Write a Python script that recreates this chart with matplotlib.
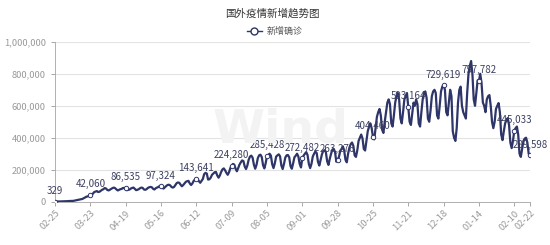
import datetime as dt
import matplotlib
matplotlib.use('Agg')
import matplotlib.pyplot as plt
from matplotlib.lines import Line2D
from matplotlib.ticker import FuncFormatter

plt.rcParams['font.family'] = ['Noto Sans CJK SC', 'DejaVu Sans']

start_date = dt.date(2020, 2, 25)

# daily new confirmed cases outside China, one row per week (Tue..Mon)
new_cases = [
    329, 450, 620, 900, 1200, 1550, 1800,
    2200, 2500, 2800, 3500, 3900, 4200, 4300,
    4800, 6500, 7500, 10000, 11000, 13000, 14500,
    17000, 22000, 26000, 31000, 33000, 36000, 42060,
    41000, 50000, 60000, 63000, 66000, 60000, 62000,
    68000, 74000, 78000, 85000, 82000, 73000, 70000,
    75000, 80000, 85000, 88000, 84000, 76000, 70000,
    74000, 78000, 80000, 86000, 84000, 86535, 72000,
    74000, 76000, 82000, 86000, 88000, 80000, 72000,
    74000, 78000, 84000, 88000, 86000, 76000, 74000,
    78000, 86000, 90000, 92000, 90000, 80000, 76000,
    84000, 88000, 92000, 98000, 97324, 86000, 82000,
    90000, 98000, 104000, 106000, 102000, 92000, 88000,
    92000, 104000, 116000, 120000, 118000, 106000, 96000,
    104000, 114000, 124000, 128000, 130000, 114000, 104000,
    114000, 130000, 138000, 143641, 140000, 128000, 118000,
    130000, 142000, 172000, 180000, 176000, 138000, 140000,
    150000, 168000, 176000, 184000, 186000, 164000, 150000,
    164000, 186000, 202000, 208000, 196000, 180000, 168000,
    184000, 210000, 224280, 236000, 232000, 206000, 190000,
    210000, 232000, 246000, 258000, 254000, 220000, 204000,
    226000, 262000, 282000, 288000, 276000, 232000, 206000,
    230000, 272000, 290000, 294000, 280000, 228000, 208000,
    240000, 285428, 292000, 300000, 288000, 234000, 210000,
    240000, 282000, 290000, 296000, 284000, 226000, 204000,
    236000, 276000, 290000, 292000, 278000, 222000, 206000,
    240000, 278000, 288000, 300000, 282000, 236000, 214000,
    272482, 288000, 300000, 310000, 292000, 236000, 210000,
    236000, 282000, 300000, 314000, 304000, 248000, 226000,
    260000, 296000, 318000, 322000, 310000, 252000, 230000,
    268000, 300000, 326000, 330000, 312000, 250000, 263276,
    280000, 318000, 330000, 346000, 320000, 262000, 246000,
    300000, 338000, 360000, 370000, 350000, 290000, 280000,
    320000, 380000, 400000, 420000, 396000, 330000, 320000,
    380000, 440000, 470000, 490000, 460000, 404460, 390000,
    460000, 530000, 560000, 580000, 540000, 450000, 430000,
    500000, 560000, 620000, 640000, 610000, 490000, 470000,
    540000, 620000, 660000, 680000, 640000, 520000, 490000,
    560000, 640000, 660000, 680000, 593164, 500000, 480000,
    550000, 620000, 600000, 640000, 610000, 490000, 470000,
    560000, 640000, 680000, 690000, 650000, 520000, 500000,
    570000, 660000, 690000, 700000, 680000, 540000, 520000,
    600000, 690000, 720000, 729619, 700000, 560000, 540000,
    620000, 700000, 660000, 440000, 400000, 380000, 460000,
    620000, 700000, 720000, 600000, 560000, 540000, 520000,
    680000, 800000, 850000, 880000, 800000, 640000, 600000,
    680000, 760000, 757782, 800000, 740000, 620000, 600000,
    560000, 640000, 660000, 667000, 600000, 500000, 460000,
    500000, 580000, 600000, 617000, 560000, 420000, 385000,
    440000, 490000, 510000, 523000, 480000, 370000, 335000,
    380000, 445033, 460000, 470000, 420000, 300000, 280000,
    330000, 380000, 395000, 400000, 370000, 300000, 289598,
]

dates = [(start_date + dt.timedelta(days=i)).strftime('%m-%d') for i in range(len(new_cases))]
label_idx = list(range(0, len(new_cases), 27)) + [len(new_cases) - 1]

line_color = '#2e3568'

fig = plt.figure(figsize=(5.5, 2.45), dpi=100)
ax = fig.add_axes([0.1, 0.177, 0.8636, 0.652])

x = list(range(len(new_cases)))
ax.plot(x, new_cases, color=line_color, lw=1.6, zorder=3)
ax.plot(label_idx, [new_cases[i] for i in label_idx], ls='none', marker='o', ms=3.2,
        mfc='white', mec=line_color, mew=0.7, zorder=4)
for i in label_idx:
    ax.annotate(f'{new_cases[i]:,}', (i, new_cases[i]), xytext=(0, 4),
                textcoords='offset points', ha='center', va='bottom',
                fontsize=7, color='#3c4060', zorder=5)

ax.set_xlim(0, len(new_cases) - 1)
ax.set_ylim(0, 1000000)
ax.set_yticks(range(0, 1000001, 200000))
ax.yaxis.set_major_formatter(FuncFormatter(lambda v, p: f'{int(v):,}'))
ax.set_xticks(label_idx)
ax.set_xticklabels([dates[i] for i in label_idx], rotation=45, ha='right',
                   rotation_mode='anchor')
ax.tick_params(axis='both', colors='#999999', labelsize=6.7, length=3, width=0.6)
ax.tick_params(axis='x', pad=2)
ax.grid(axis='y', color='#e3e3e3', lw=0.8)
ax.set_axisbelow(True)
for s in ['top', 'right']:
    ax.spines[s].set_visible(False)
for s in ['left', 'bottom']:
    ax.spines[s].set_color('#b0b0b0')
    ax.spines[s].set_linewidth(0.7)

# watermark
fig.text(0.51, 0.47, 'Wind', ha='center', va='center', fontsize=34,
         fontweight='bold', color='#f3f3f3', family='DejaVu Sans', zorder=0)

fig.text(0.495, 0.945, '国外疫情新增趋势图', ha='center', va='center',
         fontsize=7.6, color='#333333')
handle = Line2D([], [], color=line_color, lw=1, marker='o', ms=5, mfc='white',
                mec=line_color)
fig.legend(handles=[handle], labels=['新增确诊'], loc='center',
           bbox_to_anchor=(0.5, 0.872), frameon=False, fontsize=6.5,
           handlelength=1.6, handletextpad=0.6, labelcolor='#555555')

fig.savefig('out.png', dpi=100)
